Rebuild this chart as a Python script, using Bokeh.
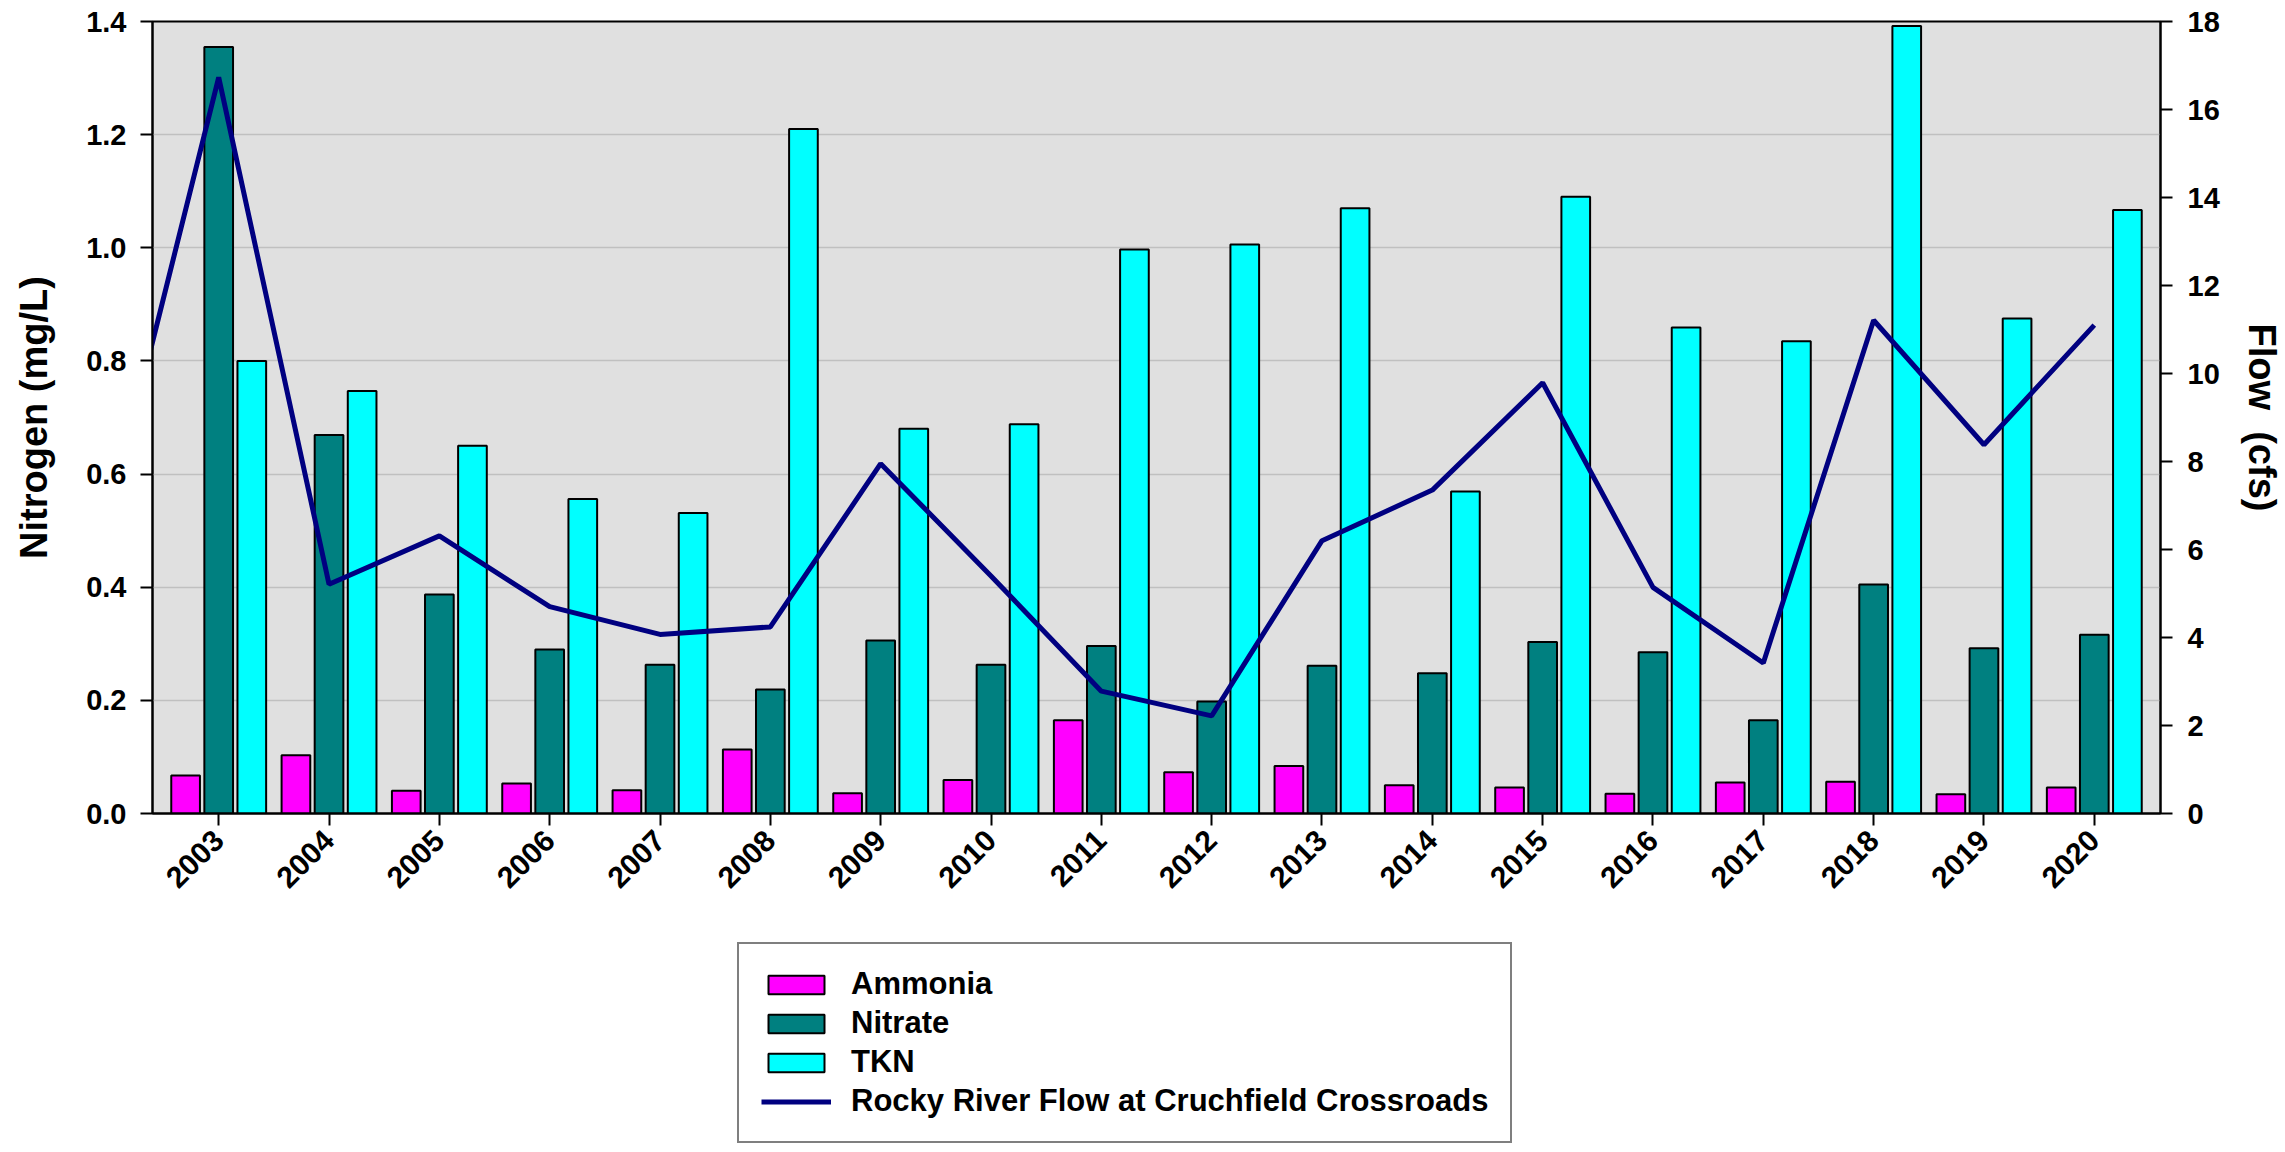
import math
from bokeh.plotting import figure
from bokeh.layouts import column
from bokeh.models import (Range1d, LinearAxis, FixedTicker, Legend, LegendItem,
                          ColumnDataSource, PrintfTickFormatter)
from bokeh.transform import dodge
from bokeh.embed import file_html
from bokeh.resources import INLINE

# ---- data -----------------------------------------------------------------
years = [2003, 2004, 2005, 2006, 2007, 2008, 2009, 2010, 2011,
         2012, 2013, 2014, 2015, 2016, 2017, 2018, 2019, 2020]
ammonia = [0.067, 0.103, 0.040, 0.053, 0.041, 0.113, 0.036, 0.059, 0.165,
           0.073, 0.084, 0.050, 0.046, 0.035, 0.055, 0.056, 0.034, 0.046]
nitrate = [1.355, 0.669, 0.387, 0.290, 0.263, 0.219, 0.306, 0.263, 0.296,
           0.198, 0.261, 0.248, 0.303, 0.285, 0.165, 0.405, 0.292, 0.316]
tkn = [0.800, 0.747, 0.650, 0.556, 0.531, 1.210, 0.680, 0.688, 0.997,
       1.006, 1.070, 0.569, 1.090, 0.859, 0.835, 1.392, 0.875, 1.067]
flow_years = [2002] + years
flow = [6.7, 16.73, 5.21, 6.31, 4.70, 4.07, 4.24, 7.95, 5.40, 2.78,
        2.22, 6.20, 7.35, 9.79, 5.14, 3.42, 11.21, 8.38, 11.10]

left_ticks = [0.0, 0.2, 0.4, 0.6, 0.8, 1.0, 1.2, 1.4]
right_ticks = [0, 2, 4, 6, 8, 10, 12, 14, 16, 18]

series_names = ["Ammonia", "Nitrate", "TKN"]
flow_name = "Rocky River Flow at Cruchfield Crossroads"

# ---- styling --------------------------------------------------------------
FONT = "Liberation Sans"
colors = {"Ammonia": "#ff00ff", "Nitrate": "#008080", "TKN": "#00ffff"}
offsets = {"Ammonia": -0.3, "Nitrate": 0.0, "TKN": 0.3}
FLOW_COLOR = "#000080"
BAR_W = 0.26

src = ColumnDataSource(dict(year=years, Ammonia=ammonia, Nitrate=nitrate, TKN=tkn))
flow_src = ColumnDataSource(dict(year=flow_years, flow=flow))

TOP_H = 935
FRAME_LEFT = 152
p = figure(width=2285, height=TOP_H,
           x_range=Range1d(years[0] - 0.6, years[-1] + 0.6),
           y_range=Range1d(left_ticks[0], left_ticks[-1]),
           output_backend="svg", toolbar_location=None,
           min_border_left=FRAME_LEFT, min_border_right=121,
           min_border_top=21, min_border_bottom=TOP_H - 813)
p.extra_y_ranges = {"flow": Range1d(right_ticks[0], right_ticks[-1])}

p.background_fill_color = "#e0e0e0"
p.border_fill_color = "white"
p.outline_line_color = "black"
p.outline_line_width = 2

p.xgrid.visible = False
p.ygrid.grid_line_color = "#c0c0c0"
p.ygrid.grid_line_width = 1.5


def add_series(fig, show=True):
    rs = {}
    for name in series_names:
        rs[name] = fig.vbar(x=dodge("year", offsets[name], range=fig.x_range),
                            top=name, width=BAR_W, source=src,
                            fill_color=colors[name], line_color="black",
                            line_width=2, visible=show)
    rs[flow_name] = fig.line("year", "flow", source=flow_src,
                             y_range_name="flow",
                             line_color=FLOW_COLOR, line_width=5, visible=show)
    return rs


add_series(p)

# x axis
xa = p.xaxis[0]
xa.ticker = FixedTicker(ticks=years)
xa.major_label_overrides = {y: str(y) for y in years}
xa.major_label_orientation = math.pi / 4

# left axis
ya = p.yaxis[0]
ya.ticker = FixedTicker(ticks=left_ticks)
ya.formatter = PrintfTickFormatter(format="%.1f")
ya.axis_label = "Nitrogen (mg/L)"
ya.axis_label_standoff = 28
ya.major_label_standoff = 14

# right axis
ra = LinearAxis(y_range_name="flow", ticker=FixedTicker(ticks=right_ticks),
                axis_label="Flow\u00a0\u00a0(cfs)")
ra.axis_label_standoff = 18
ra.major_label_standoff = 15
p.add_layout(ra, "right")

for ax in (xa, ya, ra):
    ax.axis_line_color = "black"
    ax.axis_line_width = 2
    ax.major_tick_line_color = "black"
    ax.major_tick_line_width = 2
    ax.major_tick_out = 12
    ax.major_tick_in = 0
    ax.minor_tick_line_color = None
    ax.major_label_text_font = FONT
    ax.major_label_text_font_style = "bold"
    ax.major_label_text_font_size = "29px"
    ax.major_label_text_color = "black"
    ax.axis_label_text_font = FONT
    ax.axis_label_text_font_style = "bold"
    ax.axis_label_text_font_size = "38px"
    ax.axis_label_text_color = "black"
xa.major_label_text_font_size = "30px"
xa.major_label_standoff = 10

# ---- legend strip: same series as hidden renderers (legend keys only) ------
BOT_H = 1152 - TOP_H
lg = figure(width=2285, height=BOT_H,
            x_range=Range1d(years[0] - 0.6, years[-1] + 0.6),
            y_range=Range1d(left_ticks[0], left_ticks[-1]),
            x_axis_type=None, y_axis_type=None,
            output_backend="svg", toolbar_location=None,
            min_border=0, min_border_left=0, min_border_right=0,
            min_border_top=0, min_border_bottom=0)
lg.extra_y_ranges = {"flow": Range1d(right_ticks[0], right_ticks[-1])}
lg.outline_line_color = None
lg.background_fill_color = "white"
lg.border_fill_color = "white"
lg.grid.visible = False

lrs = add_series(lg, show=False)
items = [LegendItem(label=n, renderers=[lrs[n]]) for n in series_names + [flow_name]]

# legend box: left edge 737 px, bottom edge 1143 px on the page
legend = Legend(items=items, location=(737 - FRAME_LEFT, BOT_H - (1143 - TOP_H)))
legend.label_text_font = FONT
legend.label_text_font_style = "bold"
legend.label_text_font_size = "31px"
legend.label_text_color = "black"
legend.glyph_width = 70
legend.glyph_height = 23
legend.label_height = 23
legend.label_standoff = 20
legend.spacing = 3
legend.padding = 22
legend.margin = 0
legend.border_line_color = "black"
legend.border_line_width = 2
legend.background_fill_color = "white"
legend.background_fill_alpha = 1.0
legend.inactive_fill_alpha = 0.0
lg.add_layout(legend, "center")

layout = column(p, lg, spacing=0)
open("out.html", "w").write(file_html(layout, INLINE))
